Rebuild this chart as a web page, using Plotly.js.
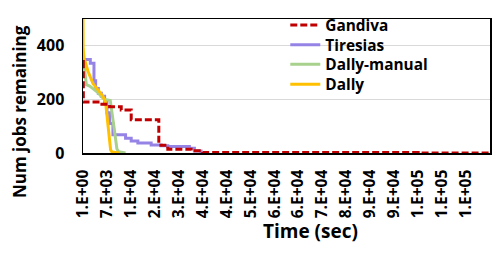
<!DOCTYPE html>
<html>
<head>
<meta charset="utf-8">
<script src="https://cdn.plot.ly/plotly-3.0.1.min.js"></script>
<style>html,body{margin:0;padding:0;background:#fff;}#chart{width:498px;height:253px;}</style>
</head>
<body>
<div id="chart"></div>
<script>
// Time (sec) axis ticks and labels
var timeTicks = [1, 7201, 14401, 21601, 28801, 36001, 43201, 50401, 57601, 64801, 72001, 79201, 86401, 93601, 100801, 108001, 115201];
var timeLabels = ["1.E+00", "7.E+03", "1.E+04", "2.E+04", "3.E+04", "4.E+04", "4.E+04", "5.E+04", "6.E+04", "6.E+04", "7.E+04", "8.E+04", "9.E+04", "9.E+04", "1.E+05", "1.E+05", "1.E+05"];
var jobTicks = [0, 200, 400];

// Gandiva
var gandivaT = [0, 100, 5000, 8000, 11500, 14500, 22800, 25500, 32500, 36000, 100800, 122400];
var gandivaY = [341, 190, 182, 173, 160, 124, 29, 14, 8, 2, 0, 0];

// Tiresias
var tiresiasT = [0, 2200, 3300, 3800, 4600, 5500, 6500, 7200, 8000, 9000, 12800, 14500, 16500, 20500, 23500, 25500, 32000, 33500, 35500, 37800];
var tiresiasY = [349, 335, 270, 241, 223, 212, 188, 150, 110, 68, 55, 45, 37, 30, 27, 24, 18, 7, 0, 0];

// Dally-manual
var manualT = [0, 300, 1000, 2000, 3000, 4500, 6000, 6600, 8200, 8800, 9500, 10200, 10700, 12800];
var manualY = [382, 330, 255, 250, 240, 225, 205, 200, 196, 150, 80, 15, 5, 0];

// Dally
var dallyT = [0, 50, 300, 800, 1500, 3000, 4500, 6000, 6800, 7300, 7800, 8300, 8700, 11000];
var dallyY = [500, 390, 355, 330, 305, 259, 235, 212, 188, 120, 50, 12, 4, 0];

var fontFam = "Open Sans, DejaVu Sans, sans-serif";

var traces = [
  {x: tiresiasT, y: tiresiasY, name: "Tiresias", mode: "lines", line: {color: "#9683E6", width: 3, shape: "hv"}, legend: "legend2"},
  {x: manualT, y: manualY, name: "Dally-manual", mode: "lines", line: {color: "#A9D18E", width: 3}, legend: "legend3"},
  {x: dallyT, y: dallyY, name: "Dally", mode: "lines", line: {color: "#FFC000", width: 3}, legend: "legend4"},
  {x: gandivaT, y: gandivaY, name: "Gandiva", mode: "lines", line: {color: "#C00000", width: 3, dash: "7px,3px", shape: "hv"}, legend: "legend"}
];

function legendAt(yv) {
  return {
    x: 0.497, y: yv, xanchor: "left", yanchor: "middle",
    bgcolor: "rgba(0,0,0,0)", borderwidth: 0,
    font: {family: fontFam, size: 15.4, color: "#000000", weight: 700}
  };
}

var layout = {
  width: 498, height: 253,
  margin: {l: 83, r: 8, t: 12, b: 100},
  paper_bgcolor: "#ffffff", plot_bgcolor: "#ffffff",
  font: {family: fontFam, color: "#000000", weight: 700},
  showlegend: true,
  legend: legendAt(0.952),
  legend2: legendAt(0.804),
  legend3: legendAt(0.658),
  legend4: legendAt(0.509),
  xaxis: {
    range: [0, 122400],
    tickmode: "array", tickvals: timeTicks, ticktext: timeLabels,
    tickangle: -90, ticks: "", showgrid: false, zeroline: false,
    showline: true, linecolor: "#000000", linewidth: 1.5, mirror: true,
    tickfont: {family: fontFam, size: 15.5, color: "#000000", weight: 700},
    ticklabelstandoff: 9
  },
  yaxis: {
    range: [0, 500],
    tickmode: "array", tickvals: jobTicks,
    ticks: "", showgrid: true, gridcolor: "#d9d9d9", gridwidth: 1, zeroline: false,
    showline: true, linecolor: "#000000", linewidth: 1.5, mirror: true,
    tickfont: {family: fontFam, size: 16, color: "#000000", weight: 700},
    ticklabelstandoff: 14
  },
  annotations: [
    {text: "Time (sec)", xref: "paper", yref: "paper", x: 0.56, y: -0.585, xanchor: "center", yanchor: "middle", showarrow: false,
     font: {family: fontFam, size: 19, color: "#000000", weight: 700}},
    {text: "Num jobs remaining", xref: "paper", yref: "paper", x: -0.1557, y: 0.31, xanchor: "center", yanchor: "middle", textangle: -90, showarrow: false,
     font: {family: fontFam, size: 17, color: "#000000", weight: 700}}
  ]
};

Plotly.newPlot("chart", traces, layout, {staticPlot: true, displayModeBar: false});
</script>
</body>
</html>
